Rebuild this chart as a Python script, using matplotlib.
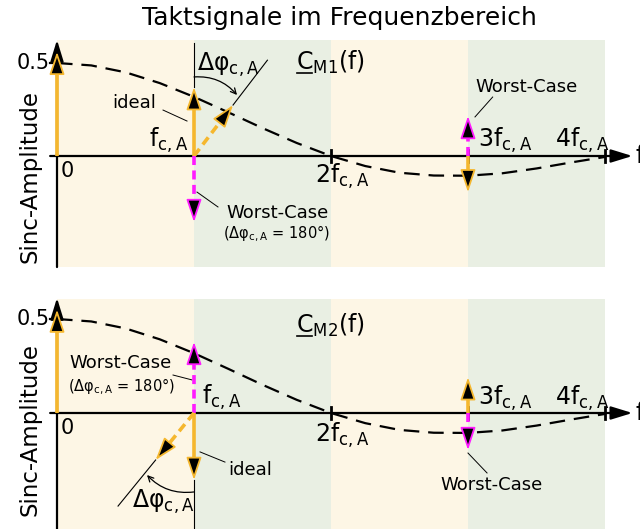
import numpy as np
import matplotlib
matplotlib.use('Agg')
import matplotlib.pyplot as plt

plt.rcParams['font.family'] = ['DejaVu Sans']
plt.rcParams['mathtext.fontset'] = 'dejavusans'

# frequency axis in multiples of f_c,A
curve_x = [0, 0.25, 0.5, 0.75, 1.0, 1.25, 1.5, 1.75, 2.0,
           2.25, 2.5, 2.75, 3.0, 3.25, 3.5, 3.75, 4.0]
curve_y = [0.5, 0.487, 0.45, 0.392, 0.318, 0.235, 0.15, 0.07, 0.0,
           -0.054, -0.09, -0.105, -0.106, -0.093, -0.067, -0.035, -0.005]
tick_x = [2, 3, 4]
tick_labels = ['2f$_\\mathrm{c,A}$', '3f$_\\mathrm{c,A}$', '4f$_\\mathrm{c,A}$']

# phasors, panel C_M1
m1_dc = 0.56
m1_ideal = 0.37
m1_rot = (0.285, 0.274)
m1_worst = -0.355
m1_h3_worst = 0.215
m1_h3_ideal = -0.195

# phasors, panel C_M2
m2_dc = 0.55
m2_worst = 0.378
m2_ideal = -0.356
m2_rot = (-0.28, -0.25)
m2_h3_ideal = 0.19
m2_h3_worst = -0.197

ORANGE = '#f5b72e'
MAGENTA = '#ff1aff'
CREAM = '#fdf6e5'
GREEN = '#e9efe3'
HEAD = '-|>,head_length=1.4,head_width=0.47'


def phasor(ax, base, tip, color, dashed=False):
    p0 = ax.transData.transform(base)
    p1 = ax.transData.transform(tip)
    d = p1 - p0
    u = d / np.hypot(*d)
    hb = ax.transData.inverted().transform(p1 - u * 12)
    ls = (0, (2.5, 1.5)) if dashed else '-'
    ax.plot([base[0], hb[0]], [base[1], hb[1]], color=color, lw=2.6, ls=ls,
            solid_capstyle='butt', zorder=5)
    ax.annotate('', xy=tip, xytext=hb,
                arrowprops=dict(arrowstyle=HEAD, mutation_scale=10, fc='k',
                                ec=color, lw=1.3, shrinkA=0, shrinkB=0),
                zorder=6)


def leader(ax, p, q):
    ax.plot([p[0], q[0]], [p[1], q[1]], color='k', lw=0.7, zorder=4)


def underline_c(fig, ax, x, y, size):
    fig.canvas.draw()
    t = ax.text(x, y, 'C', fontsize=size, ha='left', va='center')
    bb = t.get_window_extent(fig.canvas.get_renderer())
    t.remove()
    inv = ax.transData.inverted()
    a = inv.transform((bb.x0 + 1, bb.y0 + 1))
    b = inv.transform((bb.x1 - 1, bb.y0 + 1))
    ax.plot([a[0], b[0]], [a[1], b[1]], color='k', lw=1.2)


def panel(ax, y_lo, y_hi, band_lo, band_hi, axis_top, label_y):
    ax.set_xlim(-57 / 137, 583 / 137)
    ax.set_ylim(y_lo, y_hi)
    ax.axis('off')
    for k in range(4):
        ax.fill_between([k, k + 1], band_lo, band_hi,
                        color=CREAM if k % 2 == 0 else GREEN, lw=0, zorder=0)
    ax.plot(curve_x, curve_y, color='k', lw=1.6, ls=(0, (7, 4)), zorder=3)
    # axes with arrows
    ax.annotate('', xy=(4.2, 0), xytext=(-0.05, 0),
                arrowprops=dict(arrowstyle='-|>,head_length=1.3,head_width=0.4',
                                mutation_scale=10, fc='k', ec='k', lw=1.6,
                                shrinkA=0, shrinkB=0), zorder=2)
    ax.annotate('', xy=(0, axis_top), xytext=(0, band_lo),
                arrowprops=dict(arrowstyle='-|>,head_length=1.3,head_width=0.4',
                                mutation_scale=10, fc='k', ec='k', lw=1.6,
                                shrinkA=0, shrinkB=0), zorder=2)
    ax.plot([-0.05, 0], [0.5, 0.5], color='k', lw=1.6)
    for tx in tick_x:
        ax.plot([tx, tx], [-0.03, 0.03], color='k', lw=2, zorder=4)
    ax.text(-0.05, 0.5, '0.5', fontsize=15, ha='right', va='center')
    ax.text(0.03, -0.027, '0', fontsize=15, ha='left', va='top')
    ax.text(4.226, 0, 'f', fontsize=17, ha='left', va='center')
    ax.text(-0.197, label_y, 'Sinc-Amplitude', fontsize=16.5,
            rotation=90, ha='center', va='center')


fig = plt.figure(figsize=(6.4, 5.29), dpi=100)
fig.patch.set_facecolor('white')
fig.text(339 / 640, 1 - 18 / 529, 'Taktsignale im Frequenzbereich',
         fontsize=18, ha='center', va='center')

# ---------------- top panel ----------------
ax1 = fig.add_axes([0, 249 / 529, 1, 250 / 529])
panel(ax1, -124 / 186, 126 / 186, -0.597, 0.624, 0.624, -0.108)

ax1.text(1.883, -0.108, tick_labels[0], fontsize=17, ha='left', va='center')
ax1.text(3.073, 0.086, tick_labels[1], fontsize=17, ha='left', va='center')
ax1.text(3.635, 0.086, tick_labels[2], fontsize=17, ha='left', va='center')

ax1.plot([1, 1], [m1_ideal, m1_ideal + 0.24], color='k', lw=0.8, zorder=4)
rt = (1 + m1_rot[0], m1_rot[1])
ax1.plot([rt[0], rt[0] + 0.88 * m1_rot[0]], [rt[1], rt[1] + 0.88 * m1_rot[1]],
         color='k', lw=0.8, zorder=4)
ax1.annotate('', xy=(1.314, 0.328), xytext=(1, 0.425),
             arrowprops=dict(arrowstyle='->', connectionstyle='arc3,rad=-0.25',
                             color='k', lw=0.9, shrinkA=0, shrinkB=0))

phasor(ax1, (0, 0), (0, m1_dc), ORANGE)
phasor(ax1, (1, 0), (1, m1_ideal), ORANGE)
phasor(ax1, (1, 0), rt, ORANGE, dashed=True)
phasor(ax1, (1, 0), (1, m1_worst), MAGENTA, dashed=True)
phasor(ax1, (3, 0), (3, m1_h3_worst), MAGENTA, dashed=True)
phasor(ax1, (3, 0), (3, m1_h3_ideal), ORANGE)

ax1.text(0.562, 0.285, 'ideal', fontsize=13, ha='center', va='center')
leader(ax1, (0.774, 0.247), (0.949, 0.188))
ax1.text(0.956, 0.086, 'f$_\\mathrm{c,A}$', fontsize=17, ha='right', va='center')
ax1.text(1.248, 0.489, 'Δφ$_\\mathrm{c,A}$', fontsize=17, ha='center', va='center')
ax1.text(1.613, -0.306, 'Worst-Case', fontsize=13, ha='center', va='center')
ax1.text(1.6, -0.419, '(Δφ$_\\mathrm{c,A}$ = 180°)', fontsize=10.5,
         ha='center', va='center')
leader(ax1, (1.022, -0.194), (1.175, -0.274))
ax1.text(1.745, 0.505, 'C$_\\mathrm{M1}$(f)', fontsize=17, ha='left', va='center')
ax1.text(3.43, 0.371, 'Worst-Case', fontsize=13, ha='center', va='center')
leader(ax1, (3.051, 0.21), (3.18, 0.317))

# ---------------- bottom panel ----------------
ax2 = fig.add_axes([0, 0, 1, 249 / 529])
panel(ax2, -116 / 188, 133 / 188, -0.62, 0.606, 0.612, -0.09)

ax2.text(1.883, -0.117, tick_labels[0], fontsize=17, ha='left', va='center')
ax2.text(3.073, 0.08, tick_labels[1], fontsize=17, ha='left', va='center')
ax2.text(3.635, 0.08, tick_labels[2], fontsize=17, ha='left', va='center')

ax2.plot([1, 1], [m2_ideal, m2_ideal - 0.26], color='k', lw=0.8, zorder=4)
rb = (1 + m2_rot[0], m2_rot[1])
ax2.plot([rb[0], rb[0] + 0.98 * m2_rot[0]], [rb[1], rb[1] + 0.98 * m2_rot[1]],
         color='k', lw=0.8, zorder=4)
ax2.annotate('', xy=(0.657, -0.33), xytext=(1, -0.42),
             arrowprops=dict(arrowstyle='->', connectionstyle='arc3,rad=-0.25',
                             color='k', lw=0.9, shrinkA=0, shrinkB=0))

phasor(ax2, (0, 0), (0, m2_dc), ORANGE)
phasor(ax2, (1, 0), (1, m2_worst), MAGENTA, dashed=True)
phasor(ax2, (1, 0), (1, m2_ideal), ORANGE)
phasor(ax2, (1, 0), rb, ORANGE, dashed=True)
phasor(ax2, (3, 0), (3, m2_h3_ideal), ORANGE)
phasor(ax2, (3, 0), (3, m2_h3_worst), MAGENTA, dashed=True)

ax2.text(0.467, 0.266, 'Worst-Case', fontsize=13, ha='center', va='center')
ax2.text(0.474, 0.138, '(Δφ$_\\mathrm{c,A}$ = 180°)', fontsize=10.5,
         ha='center', va='center')
leader(ax2, (0.847, 0.202), (0.985, 0.176))
ax2.text(1.058, 0.085, 'f$_\\mathrm{c,A}$', fontsize=17, ha='left', va='center')
ax2.text(1.409, -0.303, 'ideal', fontsize=13, ha='center', va='center')
leader(ax2, (1.044, -0.207), (1.226, -0.261))
ax2.text(0.774, -0.473, 'Δφ$_\\mathrm{c,A}$', fontsize=17, ha='center', va='center')
ax2.text(1.745, 0.468, 'C$_\\mathrm{M2}$(f)', fontsize=17, ha='left', va='center')
ax2.text(3.175, -0.383, 'Worst-Case', fontsize=13, ha='center', va='center')
leader(ax2, (3.0, -0.213), (3.139, -0.319))

underline_c(fig, ax1, 1.745, 0.505, 17)
underline_c(fig, ax2, 1.745, 0.468, 17)

fig.savefig('out.png', dpi=100, facecolor='white')
